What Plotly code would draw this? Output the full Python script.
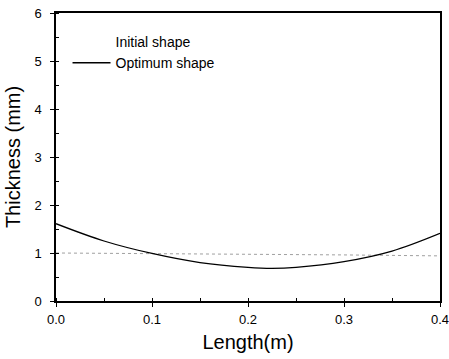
import plotly.graph_objects as go

# Data
length_initial = [0.0, 0.1, 0.2, 0.3, 0.4]
thick_initial = [1.0, 0.99, 0.98, 0.96, 0.94]

length_opt = [0.0, 0.05, 0.1, 0.15, 0.2, 0.225, 0.25, 0.3, 0.35, 0.4]
thick_opt = [1.61, 1.25, 0.99, 0.80, 0.70, 0.68, 0.70, 0.82, 1.04, 1.41]

x_ticks = [0.0, 0.1, 0.2, 0.3, 0.4]
x_tick_text = ["0.0", "0.1", "0.2", "0.3", "0.4"]
y_ticks = [0, 1, 2, 3, 4, 5, 6]

FONT = "Liberation Sans, Arial, sans-serif"

fig = go.Figure()
# Initial shape: faint dotted line (its legend sample is invisible in the reference)
fig.add_trace(go.Scatter(
    x=length_initial, y=thick_initial, mode="lines", name="Initial shape",
    line=dict(color="#a0a0a0", width=1, dash="dot"),
    showlegend=False,
))
fig.add_trace(go.Scatter(
    x=[None], y=[None], mode="lines", name="Initial shape",
    line=dict(color="rgba(0,0,0,0)", width=1),
    hoverinfo="skip",
))
fig.add_trace(go.Scatter(
    x=length_opt, y=thick_opt, mode="lines", name="Optimum shape",
    line=dict(color="black", width=1.3, shape="spline", smoothing=1.0),
))

axis_common = dict(
    showline=True, linecolor="black", linewidth=1.5, mirror=True,
    ticks="outside", ticklen=4, tickwidth=1, tickcolor="black",
    showgrid=False, zeroline=False, automargin=False,
    ticklabeloverflow="allow",
    tickfont=dict(family=FONT, size=13, color="black"),
)

fig.update_xaxes(
    range=[0, 0.4], tickvals=x_ticks, ticktext=x_tick_text,
    ticklabelstandoff=2,
    title=dict(text="Length(m)", font=dict(family=FONT, size=20, color="black"), standoff=9),
    minor=dict(ticks="inside", ticklen=3, dtick=0.05, tickcolor="black"),
    **axis_common,
)
fig.update_yaxes(
    range=[0, 6], tickvals=y_ticks,
    ticklabelstandoff=6,
    title=dict(text="Thickness (mm)", font=dict(family=FONT, size=20, color="black"), standoff=8),
    minor=dict(ticks="inside", ticklen=3, dtick=0.5, tickcolor="black"),
    **axis_common,
)

fig.update_layout(
    width=449, height=359,
    margin=dict(l=56, r=9, t=13, b=58),
    paper_bgcolor="white", plot_bgcolor="white",
    showlegend=True,
    legend=dict(
        x=0.03, y=0.955, xanchor="left", yanchor="top",
        bgcolor="rgba(0,0,0,0)", borderwidth=0,
        font=dict(family=FONT, size=14, color="black"),
        itemwidth=38, tracegroupgap=0,
    ),
)

fig.write_html("out.html")
